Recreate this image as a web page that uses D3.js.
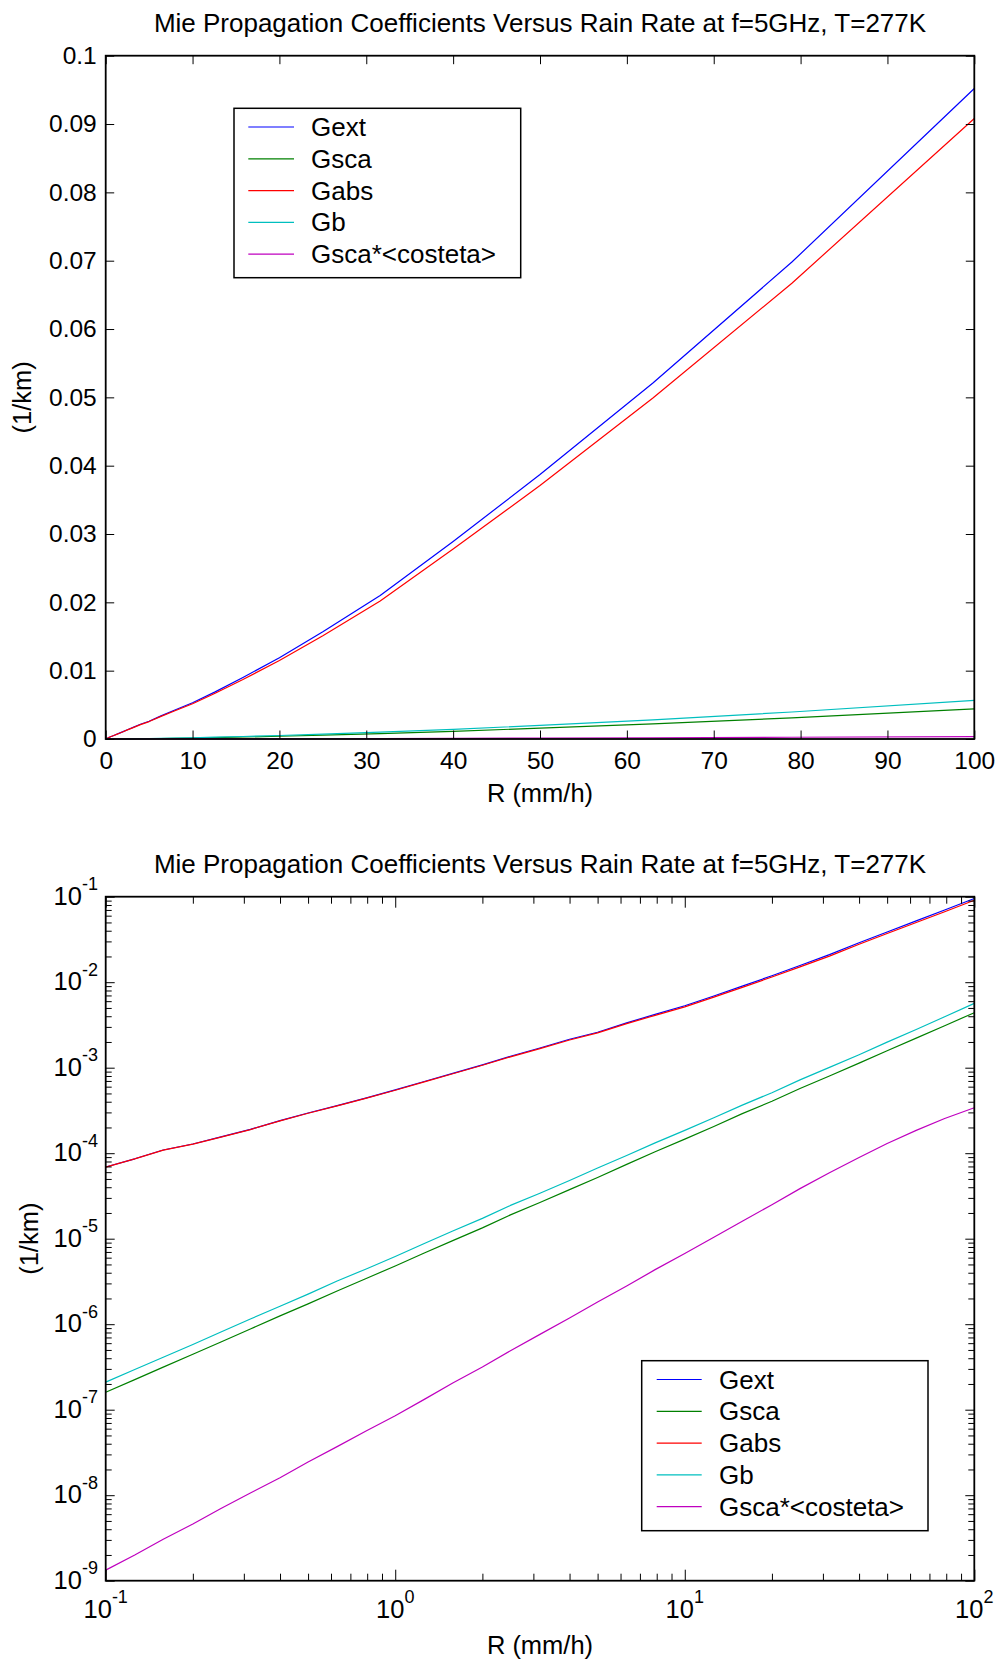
<!DOCTYPE html>
<html><head><meta charset="utf-8">
<script src="https://cdn.jsdelivr.net/npm/d3@7"></script>
<style>
body{margin:0;background:#fff}
svg{display:block;background:#fff}
text{font-family:"Liberation Sans",Arial,Helvetica,sans-serif;fill:#000}
</style>
</head><body><svg id="c" width="998" height="1660"></svg>
<script>
// ---------------- data ----------------
const R = [0.1,0.126,0.158,0.2,0.25,0.316,0.4,0.5,0.63,0.79,1,1.26,1.58,2,2.5,3.16,4,5,6.3,7.9,10,12.6,15.8,20,25,31.6,40,50,63,79,100];
const Gext = [6.9e-5,8.6e-5,1.09e-4,1.28e-4,1.55e-4,1.9e-4,2.4e-4,2.95e-4,3.6e-4,4.4e-4,5.5e-4,6.9e-4,8.6e-4,1.08e-3,1.36e-3,1.7e-3,2.15e-3,2.6e-3,3.35e-3,4.2e-3,5.3e-3,6.9e-3,9.0e-3,1.19e-2,1.57e-2,2.1e-2,2.89e-2,3.87e-2,5.21e-2,6.98e-2,9.52e-2];
const Gsca = [1.6e-7,2.25e-7,3.15e-7,4.45e-7,6.2e-7,8.8e-7,1.25e-6,1.73e-6,2.45e-6,3.4e-6,4.8e-6,6.8e-6,9.5e-6,1.34e-5,1.9e-5,2.65e-5,3.75e-5,5.2e-5,7.4e-5,1.04e-4,1.46e-4,2.05e-4,2.9e-4,4.05e-4,5.7e-4,8.0e-4,1.13e-3,1.58e-3,2.22e-3,3.1e-3,4.4e-3];
const Gabs = [6.88e-5,8.58e-5,1.087e-4,1.275e-4,1.544e-4,1.89e-4,2.39e-4,2.93e-4,3.58e-4,4.37e-4,5.45e-4,6.83e-4,8.5e-4,1.067e-3,1.34e-3,1.67e-3,2.11e-3,2.55e-3,3.28e-3,4.1e-3,5.15e-3,6.7e-3,8.7e-3,1.15e-2,1.51e-2,2.02e-2,2.78e-2,3.71e-2,4.99e-2,6.67e-2,9.08e-2];
const Gb = [2.1e-7,2.95e-7,4.1e-7,5.8e-7,8.1e-7,1.15e-6,1.62e-6,2.25e-6,3.2e-6,4.4e-6,6.2e-6,8.8e-6,1.23e-5,1.73e-5,2.45e-5,3.4e-5,4.8e-5,6.7e-5,9.4e-5,1.32e-4,1.85e-4,2.6e-4,3.65e-4,5.1e-4,7.2e-4,1.01e-3,1.42e-3,1.99e-3,2.8e-3,3.95e-3,5.65e-3];
const GscaCos = [1.33e-9,2.0e-9,3.05e-9,4.6e-9,7.0e-9,1.06e-8,1.6e-8,2.45e-8,3.7e-8,5.6e-8,8.5e-8,1.32e-7,2.05e-7,3.15e-7,4.9e-7,7.6e-7,1.18e-6,1.82e-6,2.8e-6,4.35e-6,6.7e-6,1.04e-5,1.6e-5,2.5e-5,3.85e-5,5.9e-5,8.9e-5,1.3e-4,1.85e-4,2.55e-4,3.4e-4];

const seriesNames = ["Gext","Gsca","Gabs","Gb","Gsca*<costeta>"];
const seriesColors = ["#0000ff","#008000","#ff0000","#00bfbf","#bf00bf"];
const seriesValues = [Gext, Gsca, Gabs, Gb, GscaCos];

const linXTicks = [0,10,20,30,40,50,60,70,80,90,100];
const linYTicks = [0,0.01,0.02,0.03,0.04,0.05,0.06,0.07,0.08,0.09,0.1];
const linYTickLabels = ["0","0.01","0.02","0.03","0.04","0.05","0.06","0.07","0.08","0.09","0.1"];
const logXTicks = [0.1,1,10,100];
const logXExp = ["-1","0","1","2"];
const logYTicks = [1e-9,1e-8,1e-7,1e-6,1e-5,1e-4,1e-3,1e-2,1e-1];
const logYExp = ["-9","-8","-7","-6","-5","-4","-3","-2","-1"];

const titleText = "Mie Propagation Coefficients Versus Rain Rate at f=5GHz, T=277K";
const xLabelText = "R (mm/h)";
const yLabelText = "(1/km)";

// ---------------- drawing ----------------
const svg = d3.select("#c");
const L = 105.7, Rt = 974.3;

function drawLines(g, x, y) {
  const line = d3.line().x((d,i)=>x(R[i])).y(d=>y(d));
  seriesValues.forEach((vals,k)=>{
    g.append("path").datum(vals).attr("d", line)
      .attr("fill","none").attr("stroke", seriesColors[k]).attr("stroke-width",1.2)
      .attr("stroke-linejoin","round");
  });
}

function styleAxis(sel){
  sel.select(".domain").remove();
  sel.selectAll(".tick line").attr("stroke","#000").attr("stroke-width",1);
  sel.selectAll(".tick text").attr("fill","#000");
}

function drawBox(top, bottom){
  svg.append("rect").attr("x",L).attr("y",top).attr("width",Rt-L).attr("height",bottom-top)
    .attr("fill","none").attr("stroke","#000").attr("stroke-width",1.8);
}

function drawLegend(bx, by, bw, bh, lineX0, lineX1, textX, rowY0, rowStep){
  const lg = svg.append("g");
  lg.append("rect").attr("x",bx).attr("y",by).attr("width",bw).attr("height",bh)
    .attr("fill","#fff").attr("stroke","#000").attr("stroke-width",1.5);
  seriesNames.forEach((n,k)=>{
    const yy = rowY0 + k*rowStep;
    lg.append("line").attr("x1",lineX0).attr("x2",lineX1).attr("y1",yy).attr("y2",yy)
      .attr("stroke",seriesColors[k]).attr("stroke-width",1.2);
    lg.append("text").attr("x",textX).attr("y",yy+9).attr("font-size",26).text(n);
  });
}

function title(yBase){
  svg.append("text").attr("x",(L+Rt)/2).attr("y",yBase).attr("text-anchor","middle")
    .attr("font-size",26).text(titleText);
}
function xlabel(yBase){
  svg.append("text").attr("x",(L+Rt)/2).attr("y",yBase).attr("text-anchor","middle")
    .attr("font-size",25.5).text(xLabelText);
}
function ylabel(xBase, yc){
  svg.append("text").attr("transform",`translate(${xBase},${yc}) rotate(-90)`)
    .attr("text-anchor","middle").attr("font-size",25.5).text(yLabelText);
}

// ---- Top (linear) panel ----
{
  const T = 55.7, B = 739;
  const x = d3.scaleLinear().domain([0,100]).range([L,Rt]);
  const y = d3.scaleLinear().domain([0,0.1]).range([B,T]);
  const g = svg.append("g");
  drawLines(g, x, y);
  drawBox(T,B);
  const tk = 8.5;
  svg.append("g").attr("transform",`translate(0,${B})`)
    .call(d3.axisBottom(x).tickValues(linXTicks).tickSizeInner(-tk).tickSizeOuter(0).tickPadding(12.5).tickFormat(d3.format("d")))
    .call(styleAxis).call(s=>s.selectAll("text").attr("font-size",24.5).attr("font-family",null));
  svg.append("g").attr("transform",`translate(0,${T})`)
    .call(d3.axisTop(x).tickValues(linXTicks).tickSizeInner(-tk).tickSizeOuter(0).tickFormat(""))
    .call(styleAxis);
  svg.append("g").attr("transform",`translate(${L},0)`)
    .call(d3.axisLeft(y).tickValues(linYTicks).tickSizeInner(-tk).tickSizeOuter(0).tickPadding(9)
      .tickFormat((d,i)=>linYTickLabels[i]))
    .call(styleAxis).call(s=>s.selectAll("text").attr("font-size",24.5).attr("font-family",null));
  svg.append("g").attr("transform",`translate(${Rt},0)`)
    .call(d3.axisRight(y).tickValues(linYTicks).tickSizeInner(-tk).tickSizeOuter(0).tickFormat(""))
    .call(styleAxis);
  title(31.5);
  xlabel(801.5);
  ylabel(31, (T+B)/2);
  drawLegend(234, 108.3, 286.7, 169.4, 248.3, 294, 311, 127, 31.8);
}

// ---- Bottom (log) panel ----
{
  const T = 896.7, B = 1580.7;
  const x = d3.scaleLog().domain([0.1,100]).range([L,Rt]);
  const y = d3.scaleLog().domain([1e-9,1e-1]).range([B,T]);
  const g = svg.append("g");
  drawLines(g, x, y);
  drawBox(T,B);
  const isDecade = v => Math.abs(Math.log10(v) - Math.round(Math.log10(v))) < 1e-9;
  const xMinor = x.ticks().filter(v=>!isDecade(v));
  const yMinor = y.ticks().filter(v=>!isDecade(v));
  const xMaj = 11, xMin = 7, yMaj = 9, yMin = 6;
  [[B, d3.axisBottom],[T, d3.axisTop]].forEach(([yy, ax])=>{
    svg.append("g").attr("transform",`translate(0,${yy})`)
      .call(ax(x).tickValues(logXTicks).tickSizeInner(-xMaj).tickSizeOuter(0).tickFormat(""))
      .call(styleAxis);
    svg.append("g").attr("transform",`translate(0,${yy})`)
      .call(ax(x).tickValues(xMinor).tickSizeInner(-xMin).tickSizeOuter(0).tickFormat(""))
      .call(styleAxis);
  });
  [[L, d3.axisLeft],[Rt, d3.axisRight]].forEach(([xx, ax])=>{
    svg.append("g").attr("transform",`translate(${xx},0)`)
      .call(ax(y).tickValues(logYTicks).tickSizeInner(-yMaj).tickSizeOuter(0).tickFormat(""))
      .call(styleAxis);
    svg.append("g").attr("transform",`translate(${xx},0)`)
      .call(ax(y).tickValues(yMinor).tickSizeInner(-yMin).tickSizeOuter(0).tickFormat(""))
      .call(styleAxis);
  });
  logXTicks.forEach((v,i)=>{
    const t = svg.append("text").attr("x",x(v)).attr("y",1618).attr("text-anchor","middle").attr("font-size",25.5);
    t.append("tspan").text("10");
    t.append("tspan").attr("dy",-15.5).attr("font-size",18).text(logXExp[i]);
  });
  logYTicks.forEach((v,i)=>{
    const t = svg.append("text").attr("x",98).attr("y",y(v)+8).attr("text-anchor","end").attr("font-size",25.5);
    t.append("tspan").text("10");
    t.append("tspan").attr("dy",-14.5).attr("font-size",18).text(logYExp[i]);
  });
  title(873);
  xlabel(1654);
  ylabel(38, (T+B)/2);
  drawLegend(641.7, 1360.7, 286.3, 170, 656.7, 701.7, 719, 1379.5, 31.8);
}
</script>
</body></html>
